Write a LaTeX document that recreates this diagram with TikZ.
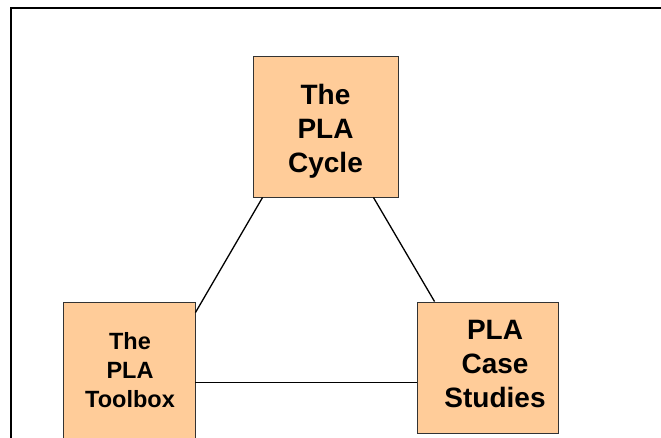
\documentclass[tikz,border=0pt]{standalone}
\usepackage{fontspec}
\setmainfont{Liberation Sans}
\usetikzlibrary{calc}
\definecolor{peach}{HTML}{FFCC99}
\definecolor{boxline}{HTML}{333333}
\begin{document}
\begin{tikzpicture}[x=1pt,y=-1pt,
  box/.style={draw=boxline,line width=0.9pt,fill=peach,rectangle,inner sep=0pt},
  bigtxt/.style={align=center,font=\fontsize{28}{34}\selectfont\bfseries,inner sep=0pt},
  smalltxt/.style={align=center,font=\fontsize{23.5}{29}\selectfont\bfseries,inner sep=0pt},
  link/.style={draw=black,line width=1.3pt}]
\useasboundingbox (0,0) rectangle (661,438);
\clip (0,0) rectangle (661,438);
% outer frame
\draw[line width=2.2pt] (11,8) rectangle (700,480);
% boxes
\node[box,minimum width=145pt,minimum height=141pt] (cycle) at (325.5,126.5) {};
\node[box,minimum width=132pt,minimum height=143pt] (toolbox) at (129,373.5) {};
\node[box,minimum width=141pt,minimum height=131pt] (cases) at (487.5,367.5) {};
% labels
\node[bigtxt] (cycletxt) at (325.5,131) {The\\PLA\\Cycle};
\node[smalltxt] (tooltxt) at (130,370.5) {The\\PLA\\Toolbox};
\node[bigtxt] (casetxt) at (495,364.5) {PLA\\Case\\Studies};
% connectors
\coordinate (c1) at ($(cycle.south west)+(10,0)$);
\coordinate (t1) at ($(toolbox.north east)+(0,11)$);
\coordinate (c2) at ($(cycle.south east)+(-25,0)$);
\coordinate (s1) at ($(cases.north west)+(18,0)$);
\coordinate (t2) at ($(toolbox.north east)+(0,81)$);
\coordinate (s2) at (cases.west |- t2);
\draw[link] (c1) -- (t1);
\draw[link] (c2) -- (s1);
\draw[link] (t2) -- (s2);
\end{tikzpicture}
\end{document}
